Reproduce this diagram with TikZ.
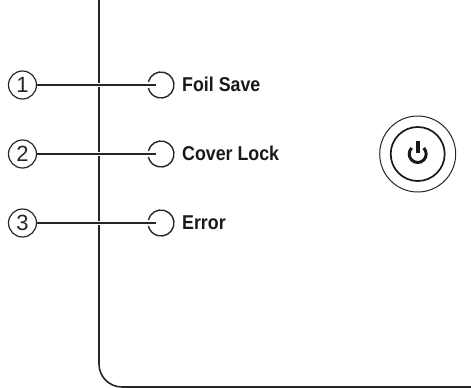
\documentclass[tikz,border=0pt]{standalone}
\usepackage{fontspec}
\setmainfont{Liberation Sans}
\tikzset{
  x=1pt,y=-1pt,
  lineink/.style={draw=black!85,line width=1.1pt},
  framebar/.style={draw=black!85,line width=1.6pt},
  callout/.style={circle,draw=black!85,line width=1.2pt,minimum size=28pt,inner sep=0pt,font=\fontsize{22}{22}\selectfont,text=black!85},
  lamp/.style={circle,minimum size=26pt,inner sep=0pt},
  lamplabel/.style={anchor=west,inner sep=0pt,font=\bfseries\fontsize{20}{20}\selectfont,text=black!90},
}
\begin{document}
\begin{tikzpicture}
\useasboundingbox (0,0) rectangle (471,388);
\coordinate (frametop) at (99,0);
\coordinate (framecorner) at (99,387);
\coordinate (frameend) at (471,387);
\draw[framebar,rounded corners=23pt] (frametop) -- (framecorner) -- (frameend);
\foreach \n/\yy/\txt in {1/85/Foil Save,2/154/Cover Lock,3/223/Error}{
  \node[callout] (c\n) at (22.5,\yy) {\n};
  \node[lamp] (l\n) at (161,\yy) {};
  \node[lamplabel] (t\n) at (182,\yy-0.5) {\scalebox{.89}[1]{\txt}};
  \coordinate (e\n) at (156,\yy);
  \draw[white,line width=4pt] (c\n.east) -- (e\n);
  \draw[lineink] (c\n.east) -- (e\n);
  \begin{scope}[shift={(l\n.center)},y=1pt]
    \draw[black!85,line width=1.4pt] (166:13) arc[start angle=166,end angle=-166,radius=13];
  \end{scope}
}
\node[circle,draw=black!85,line width=1pt,minimum size=76pt,inner sep=0pt] (pout) at (417.7,154) {};
\node[circle,draw=black!90,line width=1.7pt,minimum size=54pt,inner sep=0pt] (pin) at (417.7,154) {};
\begin{scope}[shift={(417.7,154)},y=1pt]
\draw[black!90,line width=3pt] (45:8.5) arc[start angle=45,end angle=-225,radius=8.5];
\draw[black!90,line width=4pt] (0,13) -- (0,1);
\end{scope}
\end{tikzpicture}
\end{document}
